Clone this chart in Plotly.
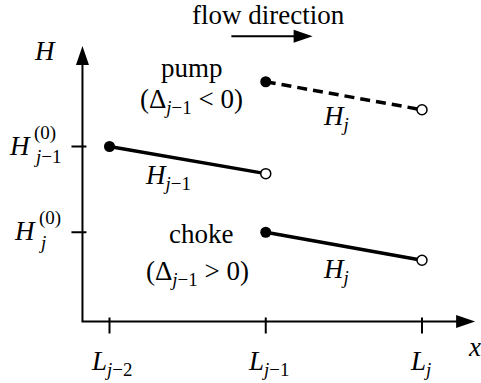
import plotly.graph_objects as go

# ---- data ---------------------------------------------------------------
# node positions along the pipe: L_{j-2}, L_{j-1}, L_j
x_nodes = [0, 1, 2]
x_node_labels = [
    "<i>L</i><sub><i>j</i>−2</sub>",
    "<i>L</i><sub><i>j</i>−1</sub>",
    "<i>L</i><sub><i>j</i></sub>",
]

# initial heads marked on the H axis: H_{j-1}^(0), H_j^(0)
h_levels = [1.0, 0.51]
h_level_subs = ["<i>j</i>−1", "<i>j</i>"]
h_level_sup = "(0)"

# head along segment j-1
prev_x = [0, 1]
prev_h = [1.0, 0.845]

# head along segment j with a pump at node j-1
pump_x = [1, 2]
pump_h = [1.37, 1.21]

# head along segment j with a choke at node j-1
choke_x = [1, 2]
choke_h = [0.51, 0.35]

# ---- canvas / scales ----------------------------------------------------
W, HGT = 481, 383
PX_X, PX_H = 156.25, 175.0       # pixels per unit of x and of H
X0_PX, H0_PX = 109.5, 321.5      # pixel column of x=0, pixel row of H=0
x_range = [-X0_PX / PX_X, (W - X0_PX) / PX_X]
y_range = [-(HGT - H0_PX) / PX_H, H0_PX / PX_H]

AXIS_X = -0.173                  # where the H axis stands
X_TIP, H_TIP = 2.34, 1.575       # arrow tips of the two axes
FLOW_H, FLOW_X = 1.63, [0.78, 1.30]

FONT = "Liberation Serif"
BIG, SMALL = 27, 19
HEAD_LEN, HEAD_HW = 19, 6.5

fig = go.Figure()


def segment(xs, hs, dash):
    fig.add_trace(go.Scatter(
        x=xs, y=hs, mode="lines+markers",
        line=dict(color="black", width=3.5, dash=dash),
        marker=dict(symbol="circle", size=[11, 10], color=["black", "white"],
                    opacity=1, line=dict(color="black", width=[0, 1.5])),
        hoverinfo="skip", showlegend=False, cliponaxis=False))


segment(prev_x, prev_h, "solid")
segment(pump_x, pump_h, "10px,6px")
segment(choke_x, choke_h, "solid")

shapes = []
# the two axes as one polyline so the corner is closed
shapes.append(dict(
    type="path", xref="x", yref="y",
    path=(f"M {AXIS_X},{H_TIP - 14 / PX_H} L {AXIS_X},0 "
          f"L {X_TIP - 14 / PX_X},0"),
    line=dict(color="black", width=2)))


def head(x, y, direction):
    if direction == "right":
        p = f"M 0,0 L {-HEAD_LEN},{HEAD_HW} L {-HEAD_LEN},{-HEAD_HW} Z"
    else:
        p = f"M 0,0 L {-HEAD_HW},{-HEAD_LEN} L {HEAD_HW},{-HEAD_LEN} Z"
    return dict(type="path", xref="x", yref="y", xsizemode="pixel",
                ysizemode="pixel", xanchor=x, yanchor=y, path=p,
                fillcolor="black", line=dict(width=0))


shapes.append(head(X_TIP, 0, "right"))
shapes.append(head(AXIS_X, H_TIP, "up"))

# flow direction arrow
shapes.append(dict(type="line", xref="x", yref="y",
                   x0=FLOW_X[0], x1=FLOW_X[1] - 14 / PX_X, y0=FLOW_H, y1=FLOW_H,
                   line=dict(color="black", width=2)))
shapes.append(head(FLOW_X[1], FLOW_H, "right"))

# ticks crossing the axes
for xv in x_nodes:
    shapes.append(dict(type="line", xref="x", yref="y", x0=xv, x1=xv,
                       ysizemode="pixel", yanchor=0, y0=-12, y1=4,
                       line=dict(color="black", width=2)))
for hv in h_levels:
    shapes.append(dict(type="line", xref="x", yref="y", y0=hv, y1=hv,
                       xsizemode="pixel", xanchor=AXIS_X, x0=-11, x1=4,
                       line=dict(color="black", width=2)))


def label(x, y, text, dx=0, dy=0, size=BIG, xanchor="center"):
    fig.add_annotation(x=x, y=y, xref="x", yref="y", text=text,
                       showarrow=False, xanchor=xanchor, yanchor="middle",
                       xshift=dx, yshift=dy, borderpad=0,
                       font=dict(family=FONT, size=size, color="black"))


# axis names
label(AXIS_X, H_TIP, "<i>H</i>", dx=-37, dy=-5)
label(X_TIP, 0, "<i>x</i>", dx=-1, dy=-25)

# flow direction caption
label(sum(FLOW_X) / 2, FLOW_H, "flow direction", dx=-4, dy=21)

# node labels under the x axis
for xv, txt, dx in zip(x_nodes, x_node_labels, [2, 3, -2]):
    label(xv, 0, txt, dx=dx, dy=-41)

# initial head labels left of the H axis
for hv, sub, hx in zip(h_levels, h_level_subs, [-50, -45]):
    label(AXIS_X, hv, "<i>H</i>", dx=hx, dy=1, xanchor="right")
    label(AXIS_X, hv, h_level_sup, dx=hx + 1, dy=14, size=SMALL, xanchor="left")
    label(AXIS_X, hv, sub, dx=hx, dy=-10, size=SMALL, xanchor="left")

# segment names
label(sum(prev_x) / 2, sum(prev_h) / 2, "<i>H</i><sub><i>j</i>−1</sub>", dx=-20, dy=-17)
label(sum(pump_x) / 2, sum(pump_h) / 2, "<i>H</i><sub><i>j</i></sub>", dx=-8, dy=-22)
label(sum(choke_x) / 2, sum(choke_h) / 2, "<i>H</i><sub><i>j</i></sub>", dx=-8, dy=-25)

# device captions at node j-1
label(pump_x[0], pump_h[0], "pump", dx=-74, dy=14)
label(pump_x[0], pump_h[0], "(Δ<sub><i>j</i>−1</sub> &lt; 0)", dx=-74, dy=-19)
label(choke_x[0], choke_h[0], "choke", dx=-65, dy=-2)
label(choke_x[0], choke_h[0], "(Δ<sub><i>j</i>−1</sub> &gt; 0)", dx=-68, dy=-41)

fig.update_layout(
    width=W, height=HGT, margin=dict(l=0, r=0, t=0, b=0),
    paper_bgcolor="white", plot_bgcolor="white", shapes=shapes,
    xaxis=dict(range=x_range, visible=False, fixedrange=True),
    yaxis=dict(range=y_range, visible=False, fixedrange=True),
    showlegend=False,
)

fig.write_html("out.html")
